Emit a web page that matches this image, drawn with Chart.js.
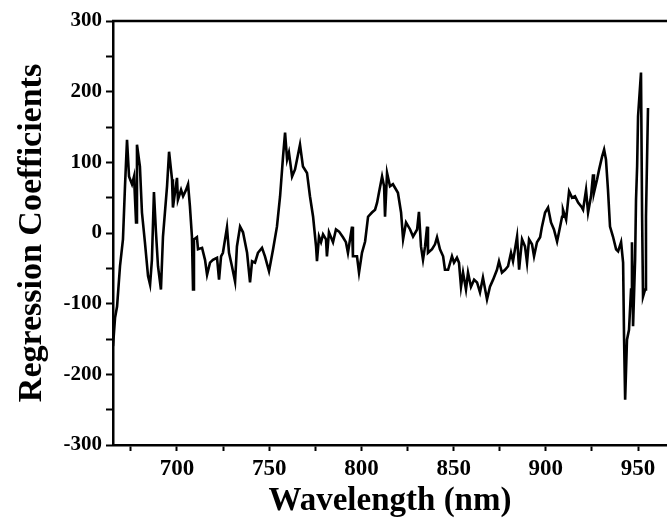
<!DOCTYPE html>
<html>
<head>
<meta charset="utf-8">
<script src="https://cdn.jsdelivr.net/npm/chart.js@4/dist/chart.umd.min.js"></script>
<style>
  html, body { margin: 0; padding: 0; background: #fff; }
  #wrap { width: 667px; height: 530px; overflow: hidden; }
</style>
</head>
<body>
<div id="wrap"><canvas id="grafica" width="667" height="530"></canvas></div>
<script>
// Longitud de onda (nm) y coeficientes de regresion
const wavelengths = [
  665.3, 666.4, 667.5, 669.1, 670.7, 671.8, 672.9, 674.0, 675.6, 676.7,
  677.8, 678.3, 679.9, 681.0, 682.6, 684.3, 685.4, 686.4, 687.5, 688.6,
  689.7, 691.3, 692.4, 694.6, 695.7, 697.3, 697.8, 700.0, 700.5, 702.2,
  703.3, 704.9, 706.0, 707.0, 708.1, 708.7, 709.2, 710.8, 711.4, 713.6,
  715.2, 716.3, 717.9, 719.5, 721.7, 722.8, 723.9, 724.9, 727.1, 728.2,
  729.8, 731.5, 732.5, 734.2, 735.8, 738.0, 739.6, 740.7, 742.3, 743.9,
  746.1, 747.7, 749.9, 752.1, 754.2, 755.9, 757.5, 758.6, 759.7, 760.7,
  762.4, 764.0, 766.7, 768.3, 770.5, 772.1, 773.8, 775.4, 775.9, 777.0,
  778.1, 779.2, 780.8, 781.3, 782.4, 784.6, 786.2, 787.9, 790.0, 791.6,
  792.7, 794.9, 795.4, 797.6, 798.7, 800.3, 802.0, 803.6, 805.7, 807.4,
  808.5, 809.5, 811.2, 812.3, 812.8, 813.9, 815.5, 817.1, 819.8, 821.5,
  822.6, 824.2, 826.4, 828.0, 830.2, 831.2, 832.3, 833.4, 834.5, 835.6,
  836.1, 838.3, 839.9, 841.0, 842.6, 844.3, 845.3, 847.0, 849.1, 850.2,
  851.8, 852.9, 854.0, 855.1, 856.7, 857.8, 859.4, 861.1, 862.7, 864.3,
  865.9, 868.1, 869.7, 871.4, 873.5, 874.6, 876.2, 877.9, 879.5, 881.1,
  882.2, 884.4, 885.5, 887.1, 888.7, 889.8, 890.9, 892.5, 893.6, 895.2,
  896.9, 897.9, 899.6, 901.2, 902.8, 904.4, 906.1, 907.2, 908.8, 909.3,
  911.0, 912.6, 914.2, 915.8, 917.5, 919.6, 920.2, 921.8, 922.9, 924.5,
  925.6, 926.1, 927.8, 928.9, 930.5, 931.6, 932.6, 933.7, 934.8, 936.4,
  938.1, 939.2, 940.8, 941.9, 942.4, 943.0, 944.0, 945.1, 946.2, 946.7,
  947.3, 948.4, 948.9, 949.5, 950.0, 951.6, 952.2, 952.7, 953.8, 954.3,
  955.4
];
const coeficientes = [
  -160, -120, -104, -47, -9, 66, 132, 80, 69, 80,
  15, 125, 94, 29, -13, -61, -73, -38, 58, 1,
  -47, -80, -5, 66, 115, 76, 36, 78, 47, 61,
  52, 61, 69, 38, -5, -80, -9, -6, -23, -21,
  -38, -59, -42, -38, -35, -66, -33, -28, 8, -28,
  -47, -69, -19, 9, 1, -28, -70, -40, -42, -28,
  -21, -33, -54, -23, 9, 52, 108, 142, 104, 114,
  80, 90, 125, 94, 85, 52, 23, -19, -40, -5,
  -13, -2, -9, -33, 1, -13, 5, 2, -6, -13,
  -28, 9, -33, -33, -56, -28, -12, 23, 29, 33,
  43, 57, 80, 66, 23, 85, 66, 69, 57, 29,
  -9, 15, 5, -5, 5, 30, -19, -38, -19, 9,
  -28, -23, -16, -6, -23, -33, -52, -52, -33, -42,
  -35, -42, -76, -56, -80, -56, -76, -66, -70, -84,
  -63, -94, -76, -66, -52, -40, -56, -52, -47, -28,
  -40, -5, -52, -9, -19, -42, -9, -16, -33, -13,
  -6, 9, 29, 36, 15, 5, -12, 2, 23, 33,
  19, 59, 50, 52, 43, 36, 33, 61, 29, 52,
  83, 57, 76, 90, 108, 118, 104, 61, 9, -5,
  -23, -26, -13, -42, -146, -236, -151, -137, -80, -13,
  -132, -38, 47, 94, 165, 227, 23, -90, -80, 23,
  177
];

// Marcas de los ejes
const ticksX = [675, 700, 725, 750, 775, 800, 825, 850, 875, 900, 925, 950];
const etiquetasX = [700, 750, 800, 850, 900, 950];
const ticksY = [-300, -250, -200, -150, -100, -50, 0, 50, 100, 150, 200, 250, 300];
const etiquetasY = [-300, -200, -100, 0, 100, 200, 300];

const fuente = "'Liberation Serif', 'Times New Roman', serif";
Chart.defaults.font.family = fuente;
Chart.defaults.color = '#000';

// Linea superior del marco
const marcoSuperior = {
    id: 'marcoSuperior',
    afterDraw(chart) {
        const { ctx, chartArea } = chart;
        ctx.save();
        ctx.strokeStyle = '#000';
        ctx.lineWidth = 2.5;
        ctx.beginPath();
        ctx.moveTo(chartArea.left - 1, chartArea.top);
        ctx.lineTo(chart.width, chartArea.top);
        ctx.stroke();
        ctx.restore();
    }
};

new Chart(document.getElementById('grafica'), {
    type: 'line',
    data: {
        datasets: [{
            data: wavelengths.map((x, i) => ({ x: x, y: coeficientes[i] })),
            borderColor: '#000',
            borderWidth: 2.6,
            pointRadius: 0,
            tension: 0,
            fill: false
        }]
    },
    options: {
        responsive: false,
        animation: false,
        layout: { padding: { top: 21, right: 0, left: 0, bottom: 0 } },
        plugins: {
            legend: { display: false },
            tooltip: { enabled: false }
        },
        scales: {
            x: {
                type: 'linear',
                min: 665.3,
                max: 965.7,
                afterBuildTicks: scale => { scale.ticks = ticksX.map(v => ({ value: v })); },
                afterFit: scale => {
                    scale.height = 85;
                    scale.paddingLeft = 0;
                    scale.paddingRight = 0;
                },
                grid: { drawOnChartArea: false, drawTicks: true, tickLength: 6, tickColor: '#000', tickWidth: 2 },
                border: { display: true, color: '#000', width: 2.5 },
                ticks: {
                    padding: 4,
                    maxRotation: 0,
                    autoSkip: false,
                    font: { size: 23, weight: 'bold' },
                    callback: v => etiquetasX.includes(v) ? String(v) : ''
                },
                title: {
                    display: true,
                    text: 'Wavelength (nm)',
                    font: { size: 33, weight: 'bold' },
                    padding: { top: 0, bottom: 9 }
                }
            },
            y: {
                min: -300,
                max: 300,
                afterBuildTicks: scale => { scale.ticks = ticksY.map(v => ({ value: v })); },
                afterFit: scale => {
                    scale.width = 113;
                    scale.paddingTop = 0;
                    scale.paddingBottom = 0;
                },
                grid: { drawOnChartArea: false, drawTicks: true, tickLength: 7, tickColor: '#000', tickWidth: 2 },
                border: { display: true, color: '#000', width: 2.5 },
                ticks: {
                    padding: 4,
                    autoSkip: false,
                    font: { size: 21, weight: 'bold' },
                    callback: v => etiquetasY.includes(v) ? String(v) : ''
                },
                title: {
                    display: true,
                    text: 'Regression Coefficients',
                    font: { size: 34, weight: 'bold' },
                    padding: { top: 12, bottom: 0 }
                }
            }
        }
    },
    plugins: [marcoSuperior]
});
</script>
</body>
</html>
